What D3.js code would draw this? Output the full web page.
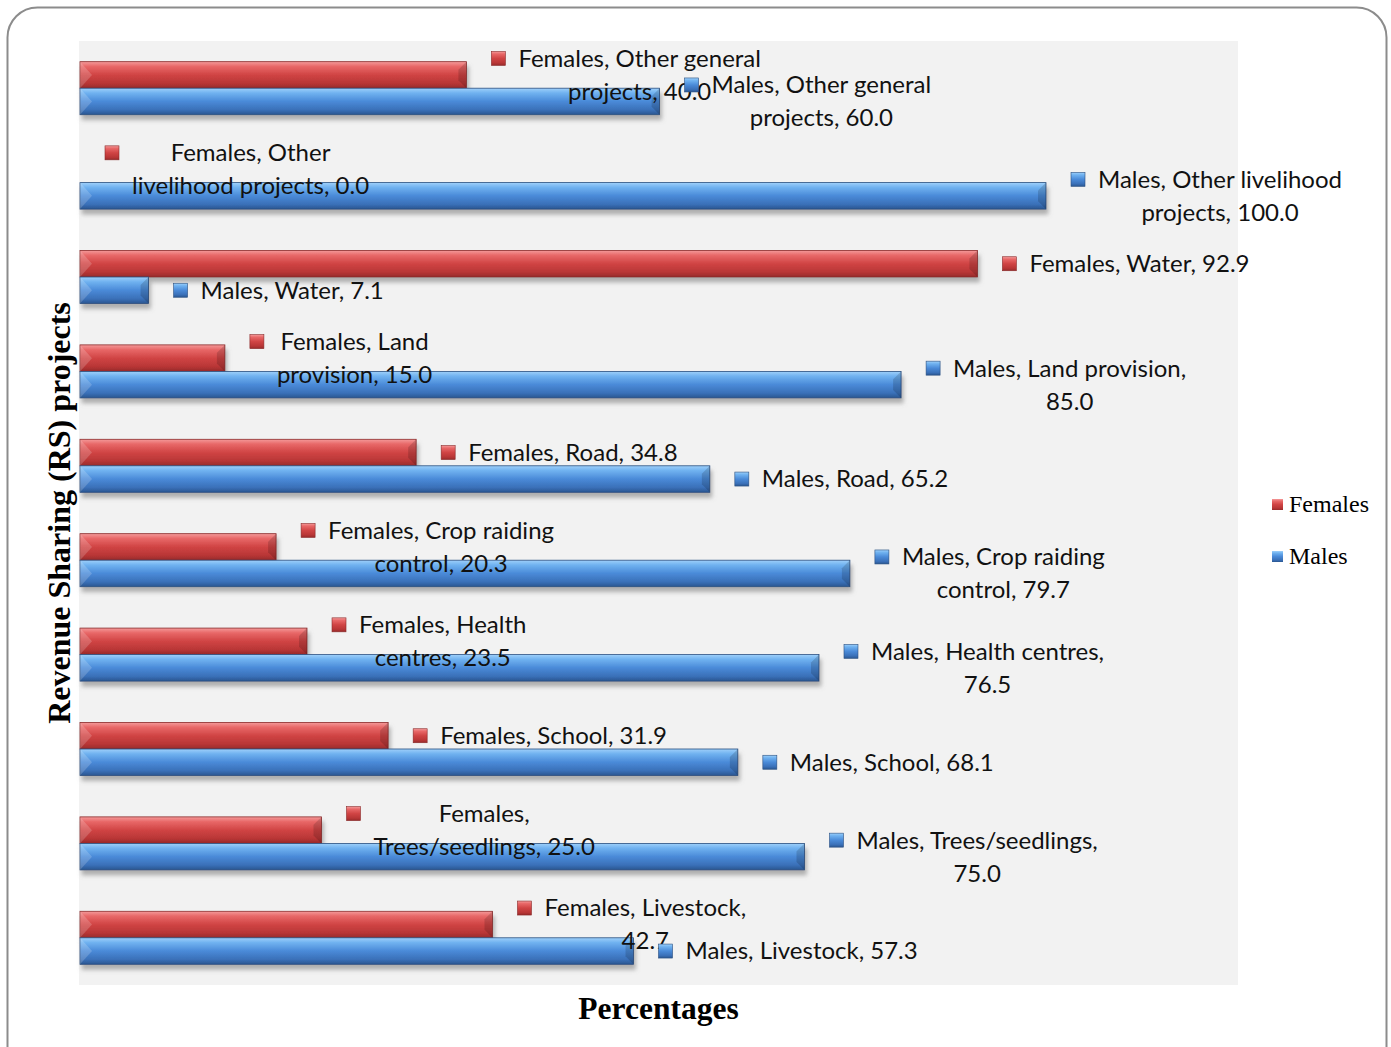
<!DOCTYPE html>
<html>
<head>
<meta charset="utf-8">
<script src="https://cdn.jsdelivr.net/npm/d3@7"></script>
<style>
  body { margin: 0; background: #fff; }
</style>
</head>
<body>
<div id="chart"></div>
<script>
// categories, top to bottom
var categories = ["Other general projects", "Other livelihood projects", "Water", "Land provision",
  "Road", "Crop raiding control", "Health centres", "School", "Trees/seedlings", "Livestock"];
var series = ["Females", "Males"];
var females = [40.0, 0.0, 92.9, 15.0, 34.8, 20.3, 23.5, 31.9, 25.0, 42.7];
var males = [60.0, 100.0, 7.1, 85.0, 65.2, 79.7, 76.5, 68.1, 75.0, 57.3];

var width = 1391, height = 1047;
var plot = {left: 79, right: 1238, top: 41, bottom: 985};

var svg = d3.select("#chart").append("svg")
  .attr("width", width)
  .attr("height", height);

var defs = svg.append("defs");

var grads = {
  Females: ["#f49a9a", "#e86868", "#d04444", "#b83636", "#962a2a"],
  Males:   ["#9fd0fa", "#70b2f0", "#4a8ad8", "#3a70b8", "#2a5690"]
};
series.forEach((s) => {
  var g = defs.append("linearGradient")
    .attr("id", "grad-" + s)
    .attr("x1", 0).attr("y1", 0).attr("x2", 0).attr("y2", 1);
  [0, 0.18, 0.5, 0.82, 1].forEach((o, i) => {
    g.append("stop").attr("offset", o).attr("stop-color", grads[s][i]);
  });
});

var shadow = defs.append("filter").attr("id", "shadow")
  .attr("x", "-5%").attr("y", "-30%").attr("width", "115%").attr("height", "180%");
shadow.append("feDropShadow")
  .attr("dx", 2).attr("dy", 5).attr("stdDeviation", 2)
  .attr("flood-color", "#777").attr("flood-opacity", 0.55);

// outer frame
svg.append("rect")
  .attr("x", 7.5).attr("y", 7.5)
  .attr("width", 1379).attr("height", 1120)
  .attr("rx", 30).attr("ry", 30)
  .attr("fill", "#fff")
  .attr("stroke", "#8c8c8c")
  .attr("stroke-width", 2);

// plot area
svg.append("rect")
  .attr("x", plot.left).attr("y", plot.top)
  .attr("width", plot.right - plot.left)
  .attr("height", plot.bottom - plot.top)
  .attr("fill", "#f2f2f2");

var x = d3.scaleLinear()
  .domain([0, 100])
  .range([80, 1046]);

var y = d3.scaleBand()
  .domain(categories)
  .range([plot.top, plot.bottom])
  .padding(0);

var ySub = d3.scaleBand()
  .domain(series)
  .range([0, y.bandwidth()])
  .paddingInner(0)
  .paddingOuter(0.78);

var rows = [];
categories.forEach((c, i) => {
  rows.push({cat: c, s: "Females", v: females[i]});
  rows.push({cat: c, s: "Males", v: males[i]});
});

var bh = ySub.bandwidth();

var bars = svg.append("g").selectAll("g")
  .data(rows.filter((d) => d.v > 0))
  .enter().append("g")
  .attr("transform", (d) => "translate(0," + (y(d.cat) + ySub(d.s)) + ")");

bars.append("rect")
  .attr("x", x(0))
  .attr("y", 0)
  .attr("width", (d) => x(d.v) - x(0))
  .attr("height", bh)
  .attr("fill", (d) => "url(#grad-" + d.s + ")")
  .attr("stroke", (d) => d.s == "Females" ? "#8a2a2a" : "#2a4f80")
  .attr("stroke-width", 0.8)
  .attr("filter", "url(#shadow)");

// bevelled ends
bars.append("path")
  .attr("d", (d) => {
    var x0 = x(0), w = Math.min(12, (x(d.v) - x(0)) / 2);
    return "M" + x0 + ",0L" + (x0 + w) + "," + (bh / 2) + "L" + x0 + "," + bh + "Z";
  })
  .attr("fill", "#fff")
  .attr("opacity", 0.18);
bars.append("path")
  .attr("d", (d) => {
    var x1 = x(d.v), w = Math.min(8, (x(d.v) - x(0)) / 2);
    return "M" + x1 + ",0L" + (x1 - w) + "," + (bh * 0.3) + "L" + (x1 - w) + "," + (bh * 0.7) + "L" + x1 + "," + bh + "Z";
  })
  .attr("fill", "#000")
  .attr("opacity", 0.15);

// data labels
var labelFont = "Lato, 'Open Sans', sans-serif";
var labelSize = 24;
var lineH = 33;
var maxW = labelSize * 10.35;

var measure = svg.append("text")
  .attr("font-family", labelFont)
  .attr("font-size", labelSize)
  .attr("visibility", "hidden");
function textW(t) {
  measure.text(t);
  return measure.node().getComputedTextLength();
}
function wrap(t) {
  var words = t.split(" "), lines = [], cur = "";
  words.forEach((w) => {
    var next = cur ? cur + " " + w : w;
    if (cur && textW(next) > maxW) {
      lines.push(cur);
      cur = w;
    } else {
      cur = next;
    }
  });
  lines.push(cur);
  return lines;
}

var labels = svg.append("g").selectAll("g")
  .data(rows)
  .enter().append("g")
  .attr("transform", (d) => "translate(" + x(d.v) + "," + (y(d.cat) + ySub(d.s) + bh / 2) + ")")
  .each(function(d) {
    var g = d3.select(this);
    var lines = wrap(d.s + ", " + d.cat + ", " + d.v.toFixed(1));
    var blockW = d3.max(lines, textW);
    var top = -(lines.length - 1) * lineH / 2;
    g.append("rect")
      .attr("x", 25).attr("y", top - 7)
      .attr("width", 14).attr("height", 14)
      .attr("fill", "url(#grad-" + d.s + ")")
      .attr("stroke", d.s == "Females" ? "#8a2a2a" : "#2a4f80")
      .attr("stroke-width", 0.6);
    lines.forEach((l, i) => {
      g.append("text")
        .attr("x", 52 + blockW / 2)
        .attr("y", top + i * lineH)
        .attr("dy", "0.35em")
        .attr("text-anchor", "middle")
        .attr("font-family", labelFont)
        .attr("font-size", labelSize)
        .attr("fill", "#111")
        .text(l);
    });
  });
measure.remove();

// axis titles
svg.append("text")
  .attr("transform", "translate(70," + ((plot.top + plot.bottom) / 2) + ") rotate(-90)")
  .attr("text-anchor", "middle")
  .attr("font-family", "'Liberation Serif', 'Times New Roman', serif")
  .attr("font-weight", "bold")
  .attr("font-size", 32)
  .text("Revenue Sharing (RS) projects");

svg.append("text")
  .attr("x", (plot.left + plot.right) / 2)
  .attr("y", 1019)
  .attr("text-anchor", "middle")
  .attr("font-family", "'Liberation Serif', 'Times New Roman', serif")
  .attr("font-weight", "bold")
  .attr("font-size", 31.5)
  .text("Percentages");

// legend
var legend = svg.append("g").selectAll("g")
  .data(series)
  .enter().append("g")
  .attr("transform", (d, i) => "translate(1272," + (504 + i * 52) + ")");
legend.append("rect")
  .attr("x", 0).attr("y", -5)
  .attr("width", 11).attr("height", 11)
  .attr("fill", (d) => "url(#grad-" + d + ")");
legend.append("text")
  .attr("x", 17).attr("y", 0)
  .attr("dy", "0.35em")
  .attr("font-family", "'Liberation Serif', 'Times New Roman', serif")
  .attr("font-size", 24)
  .text((d) => d);
</script>
</body>
</html>
